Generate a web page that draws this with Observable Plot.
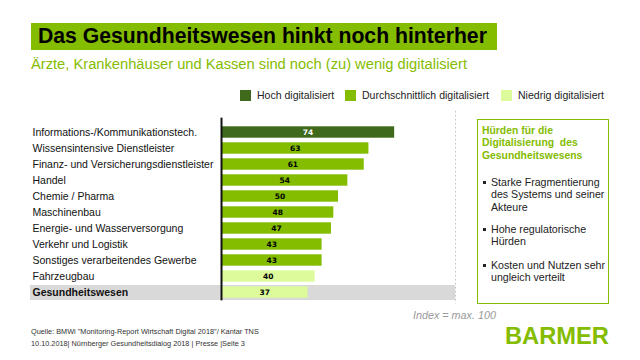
<!DOCTYPE html>
<html><head><meta charset="utf-8">
<script src="https://cdn.jsdelivr.net/npm/d3@7"></script>
<script src="https://cdn.jsdelivr.net/npm/@observablehq/plot@0.6"></script>
<style>
body{margin:0;background:#fff;font-family:"Liberation Sans",Arial,sans-serif;}
#page{position:relative;width:640px;height:360px;overflow:hidden;background:#fff;}
.abs{position:absolute;white-space:nowrap;}
#title{left:31px;top:23px;width:466px;height:27px;background:#84bc00;}
#title span{position:absolute;left:7px;top:0.5px;font-weight:bold;font-size:21.2px;color:#000;}
#sub{left:31px;top:56px;font-size:14.6px;color:#84bc00;}
.leg{top:88.5px;font-size:10.4px;color:#222;}
.sw{display:inline-block;width:11px;height:11px;vertical-align:-2px;margin-right:6px;}
#chart{left:0;top:110px;}
#box{left:477px;top:119px;width:130px;height:183px;border:1.3px solid #84bc00;}
#box .h{position:absolute;left:4px;top:5px;font-weight:bold;color:#84bc00;font-size:10.5px;line-height:12.4px;white-space:normal;width:125px;}
#box .b{position:absolute;left:13px;font-size:10.2px;line-height:12.4px;color:#222;white-space:normal;width:122px;}
#box .b:before{content:"";position:absolute;left:-8px;top:5px;width:3px;height:3px;background:#222;}
#index{left:413px;top:309px;font-size:10.5px;font-style:italic;color:#999;}
.foot{left:31px;font-size:7px;color:#333;}
#logo{left:505px;top:323px;font-size:23.5px;font-weight:bold;color:#84bc00;}
</style></head>
<body><div id="page">
<div id="title" class="abs"><span id="titleText">Das Gesundheitswesen hinkt noch hinterher</span></div>
<div id="sub" class="abs">Ärzte, Krankenhäuser und Kassen sind noch (zu) wenig digitalisiert</div>
<div id="legend"></div>
<div id="chart" class="abs"></div>
<div id="box" class="abs">
  <div class="h">Hürden für die Digitalisierung&nbsp; des Gesundheitswesens</div>
  <div class="b" style="top:56px">Starke Fragmentierung des Systems und seiner Akteure</div>
  <div class="b" style="top:103px">Hohe regulatorische Hürden</div>
  <div class="b" style="top:139px">Kosten und Nutzen sehr ungleich verteilt</div>
</div>
<div id="index" class="abs">Index = max. 100</div>
<div id="foot1" class="abs foot" style="top:327px">Quelle: BMWi "Monitoring-Report Wirtschaft Digital 2018"/ Kantar TNS</div>
<div id="foot2" class="abs foot" style="top:339px">10.10.2018| Nürnberger Gesundheitsdialog 2018 | Presse |Seite 3</div>
<div id="logo" class="abs">BARMER</div>
</div>
<script>
const categories = ["Informations-/Kommunikationstech.","Wissensintensive Dienstleister","Finanz- und Versicherungsdienstleister","Handel","Chemie / Pharma","Maschinenbau","Energie- und Wasserversorgung","Verkehr und Logistik","Sonstiges verarbeitendes Gewerbe","Fahrzeugbau","Gesundheitswesen"];
const values = [74,63,61,54,50,48,47,43,43,40,37];
const levels = ["Hoch","Durchschnittlich","Durchschnittlich","Durchschnittlich","Durchschnittlich","Durchschnittlich","Durchschnittlich","Durchschnittlich","Durchschnittlich","Niedrig","Niedrig"];
const levelNames = ["Hoch","Durchschnittlich","Niedrig"];
const legendLabels = ["Hoch digitalisiert","Durchschnittlich digitalisiert","Niedrig digitalisiert"];
const levelColors = ["#3f6a1b","#84bc00","#ddfb9b"];
const highlight = "Gesundheitswesen";
const indexMax = 100;

const data = categories.map((c,i)=>({cat:c, value:values[i], level:levels[i]}));

// text sizing helper (canvas measure)
const ctx = document.createElement("canvas").getContext("2d");
function sizeFor(text, target, weight="normal", style="normal", fam='"Liberation Sans", Arial, sans-serif'){
  ctx.font = `${style} ${weight} 100px ${fam}`;
  return 100 * target / ctx.measureText(text).width;
}
const px = v => v.toFixed(2)+"px";
document.getElementById("titleText").style.fontSize = px(sizeFor("Das Gesundheitswesen hinkt noch hinterher", 449, "bold"));
document.getElementById("sub").style.fontSize = px(sizeFor("Ärzte, Krankenhäuser und Kassen sind noch (zu) wenig digitalisiert", 436));
const legSize = sizeFor("Niedrig digitalisiert", 86);
document.querySelector("#box .h").style.fontSize = px(sizeFor("Gesundheitswesens", 100.5, "bold"));
const bSize = sizeFor("des Systems und seiner", 113.5);
document.querySelectorAll("#box .b").forEach(e=>e.style.fontSize=px(bSize));
document.getElementById("index").style.fontSize = px(sizeFor("Index = max. 100", 83, "normal", "italic"));
const fSize = sizeFor('Quelle: BMWi "Monitoring-Report Wirtschaft Digital 2018"/ Kantar TNS', 228);
document.getElementById("foot1").style.fontSize = px(fSize);
document.getElementById("foot2").style.fontSize = px(fSize);
document.getElementById("logo").style.fontSize = px(sizeFor("BARMER", 104, "bold"));
const labelSize = sizeFor("Finanz- und Versicherungsdienstleister", 181);

// legend
const legPos = [240,345,501];
const legend = document.getElementById("legend");
legendLabels.forEach((l,i)=>{
  const d=document.createElement("div");
  d.className="abs leg"; d.style.left=legPos[i]+"px"; d.style.fontSize=px(legSize);
  d.innerHTML=`<span class="sw" style="background:${levelColors[i]}"></span>${l}`;
  legend.appendChild(d);
});

const chart = Plot.plot({
  width: 470, height: 200,
  marginLeft: 221, marginRight: 15, marginTop: 10.65, marginBottom: 5.65,
  x: {domain:[0,indexMax], axis:null},
  y: {domain:categories, axis:null, padding:0},
  color: {domain:levelNames, range:levelColors},
  style: {fontFamily:"'Liberation Sans', Arial, sans-serif", overflow:"visible"},
  marks: [
    Plot.barX(data.filter(d=>d.cat===highlight), {y:"cat", x1:-81.6, x2:indexMax, fill:"#d9d9d9", insetTop:1, clip:false}),
    Plot.ruleX([indexMax], {stroke:"#c8c8c8", strokeDasharray:"2,2", insetTop:-10, insetBottom:1}),
    Plot.barX(data, {y:"cat", x:"value", fill:"level", insetTop:2.3, insetBottom:2.3}),
    Plot.text(data, {y:"cat", x:d=>d.value/2, text:d=>String(d.value), fill:d=>d.level==="Hoch"?"#fff":"#000", fontWeight:"bold", fontSize:7.5, fontFamily:"'DejaVu Sans', Verdana, sans-serif"}),
    Plot.ruleX([0], {stroke:"#111", strokeWidth:2, insetTop:-3, insetBottom:4}),
    Plot.text(data.filter(d=>d.cat!==highlight), {y:"cat", text:"cat", frameAnchor:"left", dx:-189, textAnchor:"start", fontSize:labelSize, fill:"#111"}),
    Plot.text(data.filter(d=>d.cat===highlight), {y:"cat", text:"cat", frameAnchor:"left", dx:-189, textAnchor:"start", fontSize:labelSize, fontWeight:"bold", fill:"#111"})
  ]
});
document.getElementById("chart").appendChild(chart);
</script>
</body></html>
